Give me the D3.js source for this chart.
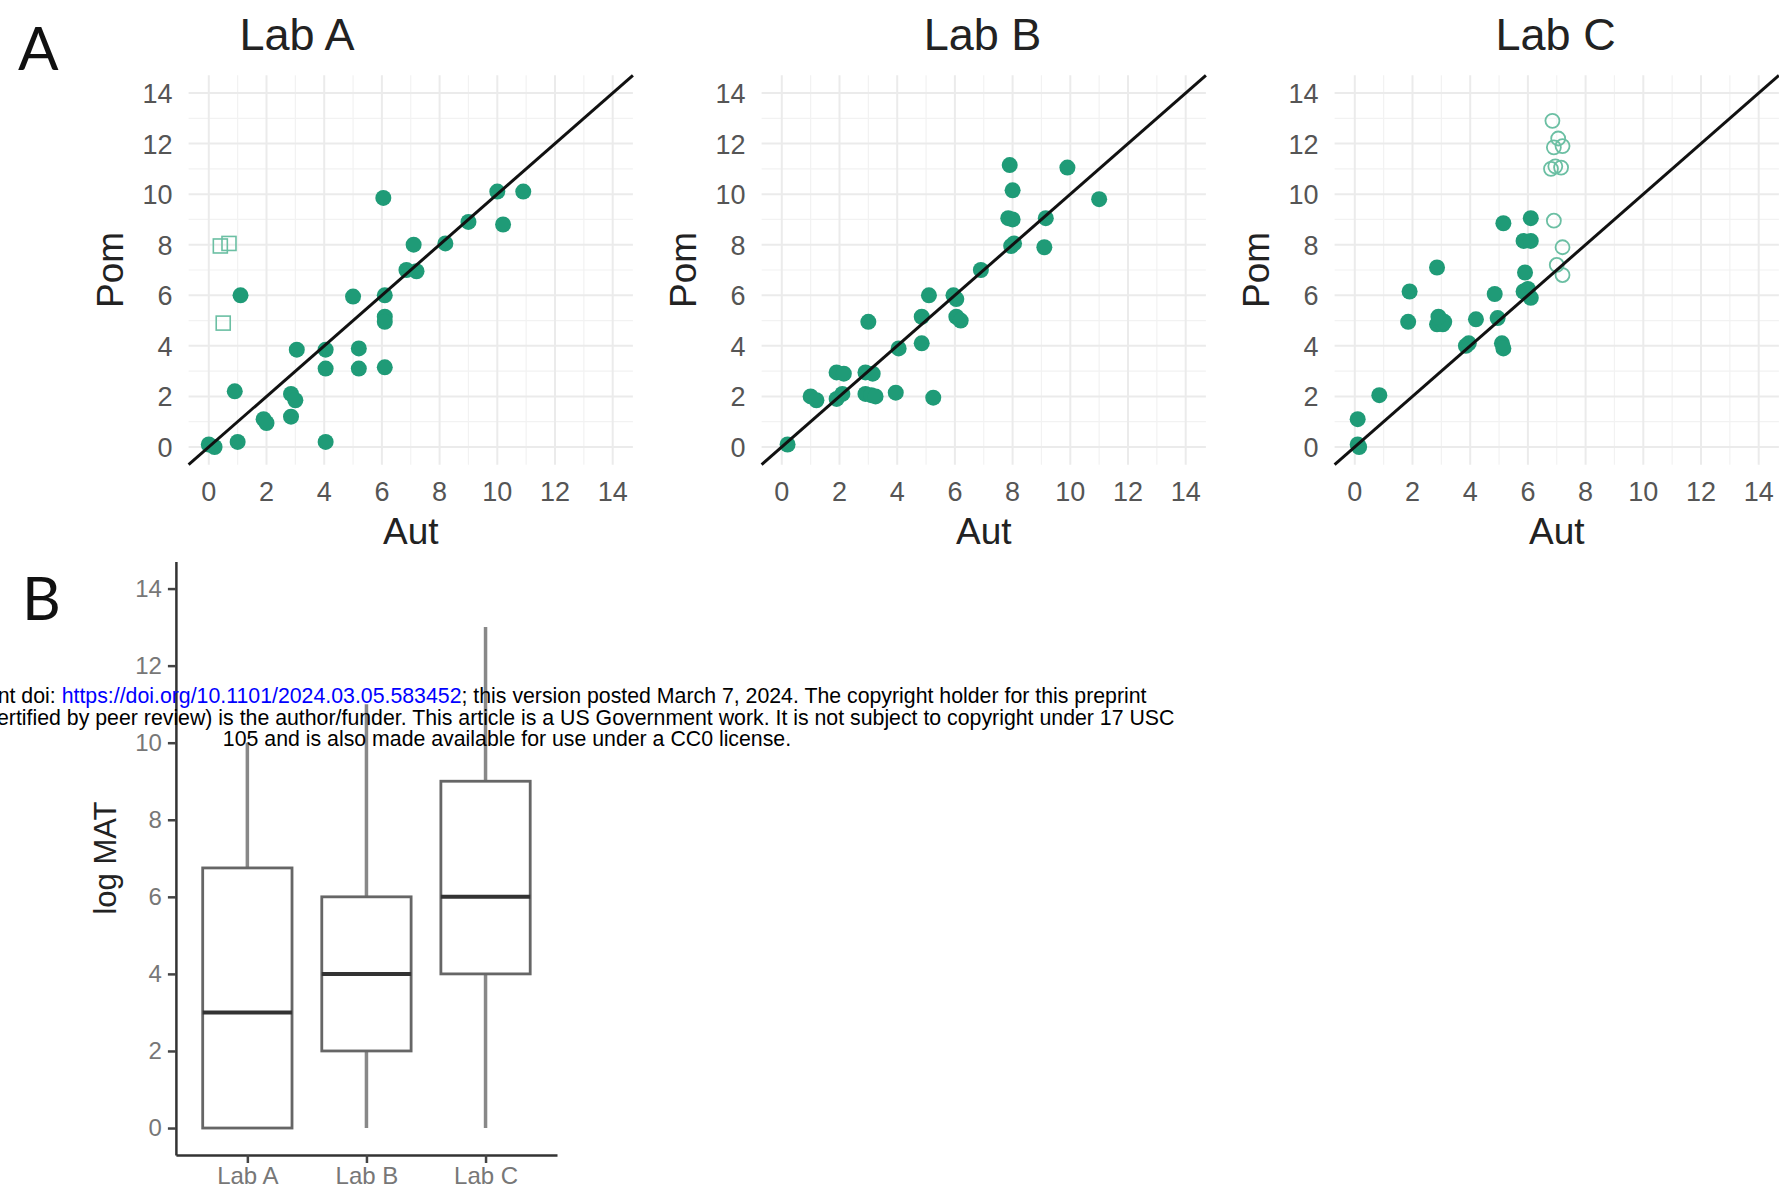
<!DOCTYPE html>
<meta charset="utf-8">
<style>
body { margin: 0; background: #fff; overflow: hidden; }
text { font-family: "Liberation Sans", Arial, sans-serif; }
.grid-major { stroke: #ebebeb; stroke-width: 2px; }
.grid-minor { stroke: #f2f2f2; stroke-width: 1.2px; }
.tick-lbl { fill: #555; font-size: 27px; }
.ax-title { fill: #222; font-size: 37px; }
.panel-title { fill: #222; font-size: 45px; }
.fig-label { font-family: Lato, "Liberation Sans", sans-serif; font-size: 60px; fill: #111; }
.notice { font-size: 21.3px; fill: #000; }
</style>
<script src="https://cdn.jsdelivr.net/npm/d3@7"></script>
<div id="chart"></div>
<script>

// Panel A data: [Aut, Pom] per sample
var labs = ["Lab A", "Lab B", "Lab C"];
var ticks = [0, 2, 4, 6, 8, 10, 12, 14];

var labAFilled = [[0,0.1],[0.2,0],[1,0.2],[0.9,2.2],[1.1,6],[1.9,1.1],[2,0.95],[2.85,2.1],[3,1.85],
  [2.85,1.2],[3.05,3.85],[4.05,3.85],[4.05,3.1],[4.05,0.2],[5,5.95],[5.2,3.9],[5.2,3.1],[6.05,9.85],
  [6.1,6],[6.1,5.15],[6.1,4.95],[6.1,3.15],[6.85,7],[7.2,6.95],[7.1,8],[8.2,8.05],[9,8.9],
  [10,10.1],[10.9,10.1],[10.2,8.8]];
var labAOpen = [[0.4,7.95],[0.7,8.05],[0.5,4.9]];

var labBFilled = [[0.2,0.1],[1,2],[1.2,1.85],[1.9,2.95],[2.15,2.9],[1.9,1.9],[2.1,2.1],[3,4.95],
  [2.9,2.95],[3.15,2.9],[2.9,2.1],[3.1,2.05],[3.25,2],[3.95,2.15],[4.05,3.9],[4.85,5.15],[4.85,4.1],
  [5.1,6],[5.25,1.95],[5.95,6],[6.05,5.85],[6.05,5.15],[6.2,5],[6.9,7],[7.85,9.05],[8,9],
  [7.9,11.15],[8,10.15],[7.95,7.95],[8.05,8.05],[9.1,7.9],[9.15,9.05],[9.9,11.05],[11,9.8]];
var labBOpen = [];

var labCFilled = [[0.1,0.1],[0.15,0],[0.1,1.1],[0.85,2.05],[1.9,6.15],[1.85,4.95],[2.85,7.1],
  [2.85,4.85],[2.95,4.95],[3.05,4.85],[3.1,4.95],[2.9,5.15],[3.85,4],[3.95,4.1],[4.2,5.05],
  [4.85,6.05],[4.95,5.1],[5.1,4.1],[5.15,3.9],[5.15,8.85],[6.1,9.05],[5.85,8.15],[6.1,8.15],
  [5.9,6.9],[5.85,6.15],[6,6.25],[6.1,5.9]];
var labCOpen = [[6.85,12.9],[6.9,11.85],[7.05,12.2],[7.2,11.9],[6.8,11],[6.95,11.1],[7.15,11.05],
  [6.9,8.95],[7.2,7.9],[7,7.2],[7.2,6.8]];

// Panel B data: box plot stats of log MAT
var boxLow = [0, 0, 0];
var boxQ1 = [0, 2, 4];
var boxMed = [3, 4, 6];
var boxQ3 = [6.75, 6, 9];
var boxHigh = [10, 11, 13];

var W = 1779, H = 1192;
var green = "#1f9b77";

var svg = d3.select("#chart").append("svg")
    .attr("width", W)
    .attr("height", H);

var yPanel = d3.scaleLinear().domain([-0.7, 14.7]).range([464.7, 75.3]);

var panels = [
  {name: labs[0], filled: labAFilled, open: labAOpen, shape: "square", left: 188.6, titleX: 297},
  {name: labs[1], filled: labBFilled, open: labBOpen, shape: "circle", left: 761.6, titleX: 982.6},
  {name: labs[2], filled: labCFilled, open: labCOpen, shape: "circle", left: 1334.6, titleX: 1555.6}
];

panels.forEach(function(p) {
  var x = d3.scaleLinear().domain([-0.7, 14.7]).range([p.left, p.left + 444.3]);
  var y = yPanel;
  var g = svg.append("g");

  var minor = d3.range(1, 15, 2);
  g.selectAll("line.vmin").data(minor).enter().append("line")
      .attr("class", "grid-minor")
      .attr("x1", d => x(d)).attr("x2", d => x(d))
      .attr("y1", y.range()[0]).attr("y2", y.range()[1]);
  g.selectAll("line.hmin").data(minor).enter().append("line")
      .attr("class", "grid-minor")
      .attr("y1", d => y(d)).attr("y2", d => y(d))
      .attr("x1", x.range()[0]).attr("x2", x.range()[1]);
  g.selectAll("line.vmaj").data(ticks).enter().append("line")
      .attr("class", "grid-major")
      .attr("x1", d => x(d)).attr("x2", d => x(d))
      .attr("y1", y.range()[0]).attr("y2", y.range()[1]);
  g.selectAll("line.hmaj").data(ticks).enter().append("line")
      .attr("class", "grid-major")
      .attr("y1", d => y(d)).attr("y2", d => y(d))
      .attr("x1", x.range()[0]).attr("x2", x.range()[1]);

  // tick labels
  g.selectAll("text.xt").data(ticks).enter().append("text")
      .attr("class", "tick-lbl")
      .attr("x", d => x(d)).attr("y", 501)
      .attr("text-anchor", "middle")
      .text(d => d);
  g.selectAll("text.yt").data(ticks).enter().append("text")
      .attr("class", "tick-lbl")
      .attr("x", x(-0.7) - 16).attr("y", d => y(d) + 10)
      .attr("text-anchor", "end")
      .text(d => d);

  // points
  g.selectAll("circle.pt").data(p.filled).enter().append("circle")
      .attr("cx", d => x(d[0])).attr("cy", d => y(d[1]))
      .attr("r", 8)
      .attr("fill", green);

  if (p.shape == "square") {
    g.selectAll("rect.op").data(p.open).enter().append("rect")
        .attr("x", d => x(d[0]) - 7).attr("y", d => y(d[1]) - 7)
        .attr("width", 14).attr("height", 14)
        .attr("fill", "none").attr("stroke", "#6bbfa3").attr("stroke-width", 1.6);
  } else {
    g.selectAll("circle.op").data(p.open).enter().append("circle")
        .attr("cx", d => x(d[0])).attr("cy", d => y(d[1]))
        .attr("r", 7)
        .attr("fill", "none").attr("stroke", "#6bbfa3").attr("stroke-width", 1.8);
  }

  // identity line
  g.append("line")
      .attr("x1", x(-0.7)).attr("y1", y(-0.7))
      .attr("x2", x(14.7)).attr("y2", y(14.7))
      .attr("stroke", "#111").attr("stroke-width", 3);

  g.append("text").attr("class", "panel-title")
      .attr("x", p.titleX).attr("y", 50)
      .attr("text-anchor", "middle")
      .text(p.name);
  g.append("text").attr("class", "ax-title")
      .attr("x", x(7)).attr("y", 544)
      .attr("text-anchor", "middle")
      .text("Aut");
  g.append("text").attr("class", "ax-title")
      .attr("transform", `translate(${x(0) - 86},${y(7)}) rotate(-90)`)
      .attr("text-anchor", "middle")
      .text("Pom");
});

svg.append("text").attr("class", "fig-label").attr("x", 18).attr("y", 70).text("A");
svg.append("text").attr("class", "fig-label").attr("x", 22).attr("y", 620).text("B");

// ---- Panel B: box plot ----
var bx = d3.scalePoint().domain(labs).range([175.9, 557]).padding(0.6);
var by = d3.scaleLinear().domain([-0.7, 14.7]).range([1155, 561.6]);
var bw = bx.step() * 0.75;

var gb = svg.append("g");

var yAxis = gb.append("g")
    .attr("transform", "translate(175.9,0)")
    .call(d3.axisLeft(by).tickValues(ticks).tickSize(8).tickSizeOuter(0).tickPadding(6));
var xAxis = gb.append("g")
    .attr("transform", "translate(0,1155)")
    .call(d3.axisBottom(bx).tickSize(8).tickSizeOuter(0).tickPadding(4));
[yAxis, xAxis].forEach(function(a) {
  a.select(".domain").attr("stroke", "#333").attr("stroke-width", 2.5);
  a.selectAll(".tick line").attr("stroke", "#444").attr("stroke-width", 2.5);
  a.selectAll(".tick text").attr("fill", "#777").attr("font-size", 24)
      .attr("font-family", "Liberation Sans, Arial, sans-serif");
});

var boxes = labs.map((l, i) => ({lab: l, lo: boxLow[i], q1: boxQ1[i], med: boxMed[i], q3: boxQ3[i], hi: boxHigh[i]}));

gb.selectAll("line.wlo").data(boxes).enter().append("line")
    .attr("x1", d => bx(d.lab)).attr("x2", d => bx(d.lab))
    .attr("y1", d => by(d.q1)).attr("y2", d => by(d.lo))
    .attr("stroke", "#888").attr("stroke-width", 3.5);
gb.selectAll("line.whi").data(boxes).enter().append("line")
    .attr("x1", d => bx(d.lab)).attr("x2", d => bx(d.lab))
    .attr("y1", d => by(d.q3)).attr("y2", d => by(d.hi))
    .attr("stroke", "#888").attr("stroke-width", 3.5);
gb.selectAll("rect.box").data(boxes).enter().append("rect")
    .attr("x", d => bx(d.lab) - bw / 2).attr("width", bw)
    .attr("y", d => by(d.q3)).attr("height", d => by(d.q1) - by(d.q3))
    .attr("fill", "#fff").attr("stroke", "#666").attr("stroke-width", 2.8);
gb.selectAll("line.med").data(boxes).enter().append("line")
    .attr("x1", d => bx(d.lab) - bw / 2).attr("x2", d => bx(d.lab) + bw / 2)
    .attr("y1", d => by(d.med)).attr("y2", d => by(d.med))
    .attr("stroke", "#333").attr("stroke-width", 4);

gb.append("text").attr("class", "ax-title")
    .style("font-size", "31px")
    .attr("transform", "translate(116,858) rotate(-90)")
    .attr("text-anchor", "middle")
    .text("log MAT");

// preprint notice overlay
var notice = svg.append("g").attr("class", "notice-g");
var l1 = notice.append("text").attr("class", "notice").attr("x", 507).attr("y", 703).attr("text-anchor", "middle");
l1.append("tspan").text("bioRxiv preprint doi: ");
l1.append("tspan").attr("fill", "#0000ff").text("https://doi.org/10.1101/2024.03.05.583452");
l1.append("tspan").text("; this version posted March 7, 2024. The copyright holder for this preprint");
notice.append("text").attr("class", "notice").attr("x", 507).attr("y", 724.5).attr("text-anchor", "middle")
    .text("(which was not certified by peer review) is the author/funder. This article is a US Government work. It is not subject to copyright under 17 USC");
notice.append("text").attr("class", "notice").attr("x", 507).attr("y", 746).attr("text-anchor", "middle")
    .text("105 and is also made available for use under a CC0 license.");

</script>
